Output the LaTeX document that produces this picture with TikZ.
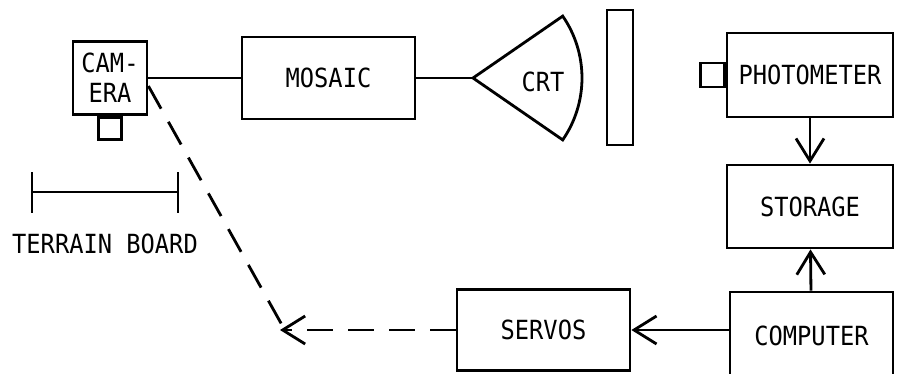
\documentclass[tikz,border=0pt]{standalone}
\usepackage{fontspec}
\setmainfont[FakeStretch=0.9]{DejaVu Sans Mono}
\usetikzlibrary{arrows.meta,calc}

\begin{document}
\begin{tikzpicture}[
          x=0.02cm,y=-0.02cm,
          line width=1.6pt,
          every node/.style={font=\fontsize{15}{17}\selectfont},
          unit/.style={draw,rectangle,inner sep=0pt,align=center},
          arr/.style={-{Straight Barb[length=4.5mm,width=5.6mm,line width=1.6pt]}},
          dashline/.style={dash pattern=on 0.52cm off 0.3cm},
      ]
        \useasboundingbox (0,0) rectangle (897,373);

        % camera with its lens
        \node[unit,minimum width=1.48cm,minimum height=1.46cm] (cam) at (110,78) {CAM-\\ERA};
        \node[unit,minimum width=0.46cm,minimum height=0.44cm,anchor=north] (camlens) at (cam.south) {};

        \node[unit,minimum width=3.46cm,minimum height=1.64cm] (mosaic) at (328.5,78) {MOSAIC};

        % crt as a sector, and its screen
        \coordinate (crt) at (473,78);
        \draw (crt) -- ++(34.6:109) arc (34.6:-34.6:109) -- cycle;
        \node (crtlabel) at (543,82) {CRT};
        \node[unit,minimum width=0.52cm,minimum height=2.7cm] (screen) at (620,77.5) {};

        \draw (cam) -- (mosaic);
        \draw (mosaic) -- (crt);

        % photometer chain
        \node[unit,minimum width=3.32cm,minimum height=1.68cm] (photo) at (810,75) {PHOTOMETER};
        \node[unit,minimum width=0.48cm,minimum height=0.48cm,anchor=east] (photolens) at (photo.west) {};
        \node[unit,minimum width=3.32cm,minimum height=1.66cm] (storage) at (810,206.5) {STORAGE};
        \node[unit,minimum width=3.26cm,minimum height=1.76cm] (comp) at (811.5,336) {COMPUTER};
        \node[unit,minimum width=3.46cm,minimum height=1.62cm] (servos) at (543.5,330) {SERVOS};

        \draw[arr] (photo) -- (storage);
        \draw[arr] (comp) -- (storage);
        \draw[arr] (servos.east -| comp.west) -- (servos.east);

        % terrain board
        \coordinate (tbl) at (32,192);
        \coordinate (tbr) at (178,192);
        \draw (tbl) -- (tbr);
        \draw ($(tbl)+(0,-20)$) -- ($(tbl)+(0,21)$);
        \draw ($(tbr)+(0,-20)$) -- ($(tbr)+(0,21)$);
        \node (tblabel) at (105,244) {TERRAIN BOARD};

        % servo drive back to camera
        \coordinate (tip) at (280,330);
        \draw[dashline,arr] (servos.west) -- (tip);
        \draw[dashline] ([yshift=-0.16cm]cam.east) -- ($(tip)+(2,-5)$);
      \end{tikzpicture}
\end{document}
